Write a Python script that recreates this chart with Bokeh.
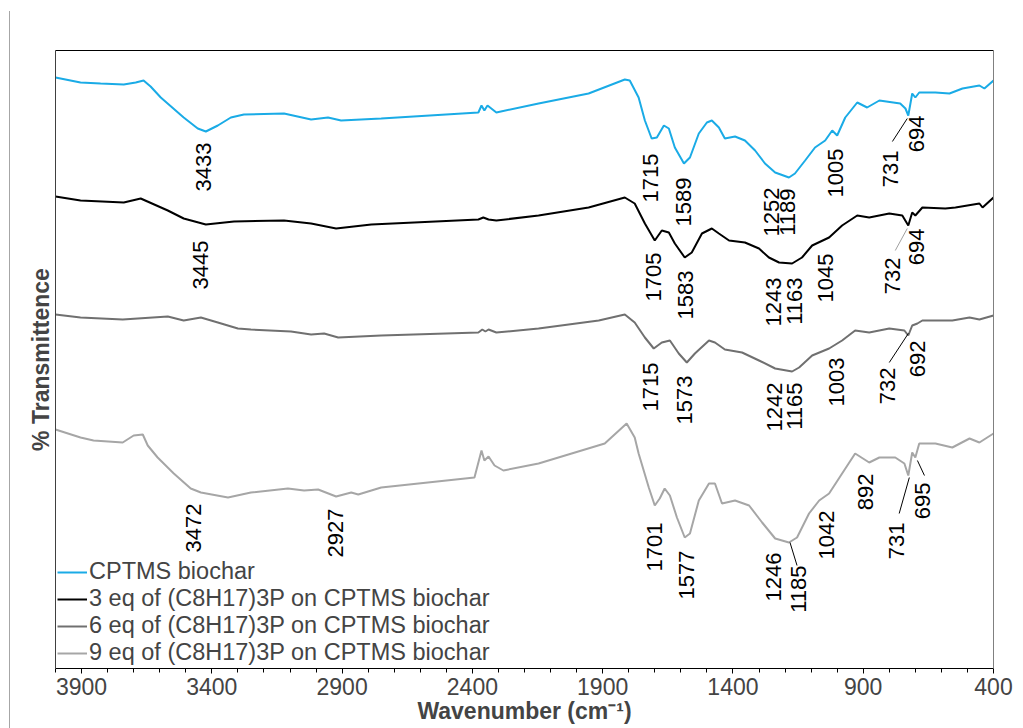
import math
from bokeh.plotting import figure
from bokeh.models import Range1d, FixedTicker, LinearAxis, Div
from bokeh.layouts import row
from bokeh.core.properties import value
from bokeh.embed import file_html
from bokeh.resources import INLINE

# ---------------- data (wavenumber cm-1, transmittance a.u. with offsets) ----------------
wn_cptms = [4000, 3904, 3827, 3738, 3692, 3662, 3635, 3596, 3508, 3454, 3423, 3377, 3327, 3277, 3123,
            3019, 2954, 2904, 2750, 2377, 2365, 2354, 2342, 2308, 2146, 1954, 1815, 1796, 1762, 1738,
            1712, 1692, 1665, 1646, 1623, 1588, 1565, 1531, 1500, 1481, 1454, 1431, 1392, 1354, 1315,
            1277, 1238, 1185, 1162, 1123, 1085, 1046, 1019, 1000, 969, 923, 885, 838, 758, 738, 727,
            712, 700, 685, 623, 569, 519, 454, 435, 400]
t_cptms = [591, 586, 585, 584, 586, 588, 582, 571, 551, 540, 537, 543, 551, 554, 555,
           549, 551, 548, 550, 556, 563, 558, 563, 556, 565, 575, 589, 588, 571, 548,
           530, 531, 543, 540, 521, 505, 511, 535, 546, 548, 541, 530, 532, 528, 518,
           505, 496, 491, 495, 508, 521, 528, 538, 533, 551, 566, 561, 568, 565, 560, 553,
           575, 571, 576, 576, 575, 580, 583, 580, 588]

wn_3eq = [4000, 3904, 3738, 3673, 3569, 3508, 3423, 3315, 3123, 3019, 2923, 2788, 2377, 2358, 2338,
          2308, 2146, 1954, 1815, 1777, 1738, 1700, 1673, 1646, 1623, 1585, 1558, 1519, 1481, 1454,
          1415, 1354, 1300, 1262, 1223, 1173, 1135, 1096, 1031, 981, 923, 877, 800, 750, 727,
          712, 700, 673, 585, 546, 454, 442, 400]
t_3eq = [472, 468, 466, 470, 458, 450, 444, 447, 448, 445, 440, 444, 449, 451, 449,
         448, 453, 461, 471, 465, 445, 428, 438, 436, 425, 411, 416, 435, 440, 435,
         428, 426, 420, 411, 406, 405, 411, 423, 431, 443, 453, 451, 455, 453, 443,
         456, 453, 461, 460, 461, 465, 461, 471]

wn_6eq = [4000, 3904, 3742, 3569, 3508, 3442, 3377, 3300, 3250, 3096, 3019, 2969, 2915, 2750, 2377,
          2362, 2350, 2338, 2308, 2146, 1915, 1815, 1777, 1738, 1704, 1673, 1642, 1608, 1577, 1546,
          1492, 1469, 1431, 1365, 1300, 1238, 1173, 1146, 1096, 1031, 981, 931, 877, 800, 742,
          727, 712, 692, 673, 558, 492, 454, 400]
t_6eq = [354, 351, 349, 352, 348, 351, 346, 340, 339, 337, 334, 335, 331, 333, 336,
         339, 337, 339, 336, 340, 348, 354, 346, 331, 320, 326, 328, 315, 306, 315,
         328, 326, 319, 316, 308, 300, 297, 301, 313, 320, 328, 338, 336, 340, 338,
         333, 343, 345, 348, 348, 351, 349, 353]

wn_9eq = [4000, 3904, 3854, 3742, 3700, 3665, 3646, 3608, 3546, 3481, 3442, 3338, 3250, 3108, 3046,
          2992, 2923, 2865, 2838, 2750, 2392, 2365, 2354, 2338, 2315, 2281, 2146, 2019, 1892, 1808,
          1777, 1762, 1723, 1700, 1681, 1662, 1642, 1615, 1585, 1565, 1531, 1492, 1469, 1442, 1392,
          1338, 1288, 1238, 1185, 1154, 1108, 1069, 1031, 981, 931, 877, 838, 777, 742, 727,
          712, 700, 685, 623, 558, 492, 454, 400]
t_9eq = [239, 231, 228, 226, 233, 234, 223, 211, 195, 180, 176, 171, 176, 180, 178,
         179, 172, 176, 174, 181, 191, 218, 208, 212, 203, 198, 205, 215, 225, 245,
         231, 215, 181, 163, 170, 180, 173, 151, 131, 135, 168, 185, 185, 165, 168,
         163, 146, 130, 126, 131, 155, 168, 175, 195, 215, 206, 211, 211, 205, 193,
         216, 211, 225, 225, 221, 230, 226, 235]

series_names = ["CPTMS biochar",
                "3 eq of (C8H17)3P on CPTMS biochar",
                "6 eq of (C8H17)3P on CPTMS biochar",
                "9 eq of (C8H17)3P on CPTMS biochar"]

# peak annotations: text, x position (cm-1), y of label top
lab_cptms_text = ["3433", "1715", "1589", "1252", "1189", "1005", "731", "694"]
lab_cptms_x = [3433, 1715, 1589, 1252, 1189, 1005, 796, 694]
lab_cptms_y = [526, 515, 491, 481, 480, 520, 518, 553]

lab_3eq_text = ["3445", "1705", "1583", "1243", "1163", "1045", "732", "694"]
lab_3eq_x = [3445, 1705, 1583, 1243, 1163, 1045, 788, 694]
lab_3eq_y = [428, 416, 398, 391, 391, 415, 411, 440]

lab_6eq_text = ["1715", "1573", "1242", "1165", "1003", "732", "692"]
lab_6eq_x = [1715, 1585, 1242, 1165, 1003, 808, 692]
lab_6eq_y = [306, 293, 286, 286, 311, 301, 328]

lab_9eq_text = ["3472", "2927", "1701", "1577", "1246", "1185", "1042", "892", "731", "695"]
lab_9eq_x = [3472, 2927, 1701, 1577, 1246, 1150, 1042, 892, 773, 673]
lab_9eq_y = [165, 160, 146, 118, 116, 103, 158, 195, 146, 186]

# leader lines (label -> band)
lead_x0 = [788, 777, 800, 762, 665, 1154]
lead_y0 = [527, 418, 306, 155, 193, 103]
lead_x1 = [731, 731, 727, 723, 692, 1181]
lead_y1 = [550, 440, 335, 191, 208, 126]
lead_color = ["#000000", "#a0a0a0", "#000000", "#000000", "#000000", "#000000"]

major_ticks = [3900, 3400, 2900, 2400, 1900, 1400, 900, 400]
minor_ticks = list(range(400, 4001, 100))

# ---------------- figure ----------------
FONT = "Liberation Sans"
colors = ["#1AABE6", "#000000", "#707070", "#A6A6A6"]

p = figure(width=1003, height=728, output_backend="svg", toolbar_location=None,
           x_range=Range1d(4000, 400), y_range=Range1d(0, 618),
           min_border_left=45, min_border_right=20, min_border_top=50, min_border_bottom=60)
p.outline_line_color = None
p.xgrid.visible = False
p.ygrid.visible = False

for wn, t, c, name in zip([wn_cptms, wn_3eq, wn_6eq, wn_9eq], [t_cptms, t_3eq, t_6eq, t_9eq],
                          colors, series_names):
    p.line(wn, t, line_color=c, line_width=2, legend_label=name)

p.segment(x0=lead_x0, y0=lead_y0, x1=lead_x1, y1=lead_y1, line_color=lead_color, line_width=1)

for tx, xx, yy in [(lab_cptms_text, lab_cptms_x, lab_cptms_y), (lab_3eq_text, lab_3eq_x, lab_3eq_y),
                   (lab_6eq_text, lab_6eq_x, lab_6eq_y), (lab_9eq_text, lab_9eq_x, lab_9eq_y)]:
    p.text(x=xx, y=yy, text=tx, angle=math.pi / 2, text_align="right", text_baseline="middle",
           text_font=value(FONT), text_font_size="22px", text_color="black")

# x axis
xa = p.xaxis[0]
xa.ticker = FixedTicker(ticks=major_ticks, minor_ticks=minor_ticks)
xa.axis_label = "Wavenumber (cm\u207b\u00b9)"
xa.axis_label_text_font = FONT
xa.axis_label_text_font_style = "bold"
xa.axis_label_text_font_size = "23px"
xa.axis_label_standoff = 0
xa.major_label_text_font = FONT
xa.major_label_text_font_size = "23px"
xa.major_label_standoff = 4
xa.major_tick_out = 5
xa.major_tick_in = 0
xa.minor_tick_out = 4
xa.minor_tick_in = 0
xa.axis_line_color = "black"

# y axis: label only
ya = p.yaxis[0]
ya.ticker = FixedTicker(ticks=[])
ya.major_label_text_font_size = "0px"
ya.major_tick_out = 0
ya.minor_tick_out = 0
ya.major_label_standoff = 0
ya.axis_label = "% Transmittence"
ya.axis_label_text_font = FONT
ya.axis_label_text_font_style = "bold"
ya.axis_label_text_font_size = "23px"
ya.axis_label_standoff = 2
ya.axis_line_color = "#404040"

top_axis = LinearAxis(ticker=FixedTicker(ticks=[]), major_label_text_font_size="0px",
                      major_tick_out=0, minor_tick_out=0, axis_line_color="black")
p.add_layout(top_axis, "above")
right_axis = LinearAxis(ticker=FixedTicker(ticks=[]), major_label_text_font_size="0px",
                        major_tick_out=0, minor_tick_out=0, axis_line_color="#808080")
p.add_layout(right_axis, "right")

lg = p.legend[0]
lg.location = "bottom_left"
lg.margin = 2
lg.padding = 0
lg.spacing = 0
lg.glyph_width = 30
lg.glyph_height = 26
lg.label_height = 26
lg.label_standoff = 2
lg.label_text_font = FONT
lg.label_text_font_size = "23.5px"
lg.background_fill_alpha = 0
lg.border_line_alpha = 0

edge = Div(text="", width=1, height=717, margin=(11, 0, 0, 9),
           styles={"background-color": "#a6a6a6"})
layout = row(edge, p)

open("out.html", "w").write(file_html(layout, INLINE))
